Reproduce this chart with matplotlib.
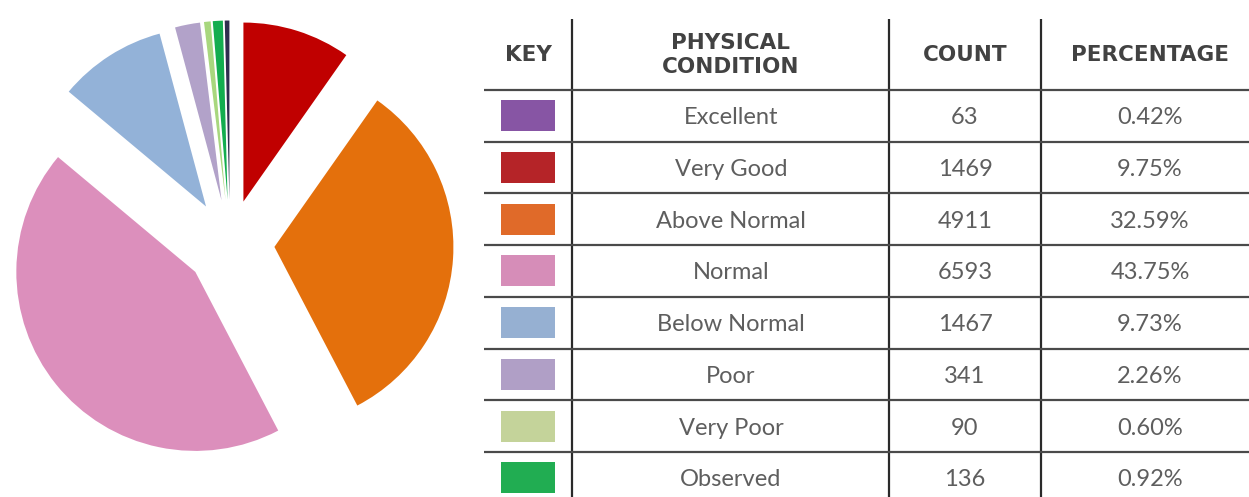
import matplotlib.pyplot as plt

# table rows, in the order of the key
conditions = ["Excellent", "Very Good", "Above Normal", "Normal",
              "Below Normal", "Poor", "Very Poor", "Observed"]
counts = [63, 1469, 4911, 6593, 1467, 341, 90, 136]
percent_labels = ["0.42%", "9.75%", "32.59%", "43.75%",
                  "9.73%", "2.26%", "0.60%", "0.92%"]
headers = ["KEY", "PHYSICAL\nCONDITION", "COUNT", "PERCENTAGE"]

# the pie uses slightly different shades than the key swatches
pie_colors = ["#2f2d4f", "#c00000", "#e4700c", "#dc8fbc",
              "#93b2d8", "#b2a2c9", "#a8d77e", "#13ad4f"]
key_colors = ["#8755a4", "#b52428", "#e06a29", "#d68db8",
              "#96b0d2", "#b09fc6", "#c4d39a", "#21ad52"]

W, H = 1249, 497
fig = plt.figure(figsize=(W / 100, H / 100), dpi=100)

# pie, in pixel units (y up); explode is an absolute offset here
ax_pie = fig.add_axes([0, 0, 1, 1])
total = sum(counts)
ax_pie.pie(counts, colors=pie_colors, explode=[44.5] * len(counts),
           center=(230, H - 244), radius=179, counterclock=False,
           startangle=90 + 360 * counts[0] / total,
           wedgeprops=dict(linewidth=0))
ax_pie.set_xlim(0, W)
ax_pie.set_ylim(0, H)
ax_pie.axis("off")

# table, in pixel units (y down)
ax = fig.add_axes([0, 0, 1, 1])
ax.set_xlim(0, W)
ax.set_ylim(H, 0)
ax.axis("off")

top, head_bottom, row_h = 19, 90, 51.7
left = 484
col_lines = [572, 889, 1041]
col_centers = [528, 731, 965, 1150]

for x in col_lines:
    ax.plot([x, x], [top, H], color="#2a2a2a", lw=1.6, solid_capstyle="butt")
for i in range(len(conditions)):
    y = head_bottom + i * row_h
    ax.plot([left, W], [y, y], color="#4a4a4a", lw=1.6, solid_capstyle="butt")

head_y = [55, 55, 55, 55]
for x, y, t in zip(col_centers, head_y, headers):
    ax.text(x, y, t, ha="center", va="center", fontsize=15.5,
            fontweight="bold", color="#424242", family="DejaVu Sans",
            linespacing=1.25)

for i, (name, n, p) in enumerate(zip(conditions, counts, percent_labels)):
    yc = head_bottom + (i + 0.5) * row_h
    ax.add_patch(plt.Rectangle((501, yc - 15.5), 54, 31,
                               color=key_colors[i], lw=0))
    for x, t in zip(col_centers[1:], [name, str(n), p]):
        ax.text(x, yc + 2, t, ha="center", va="center", fontsize=17,
                fontweight="normal", color="#5e5e5e", family="Lato")

fig.savefig("out.png", dpi=100)
